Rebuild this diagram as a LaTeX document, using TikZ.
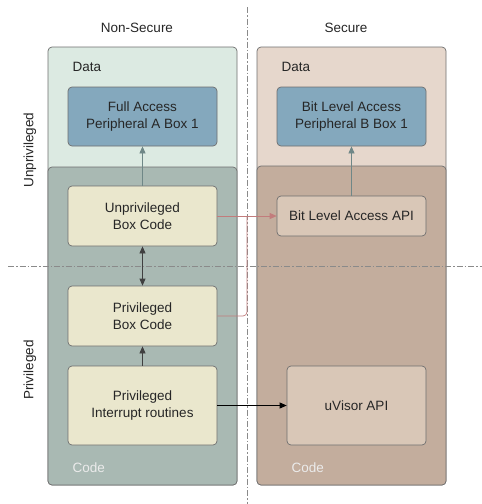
\documentclass[tikz,border=0pt]{standalone}
\usepackage{fontspec}
\setmainfont{Liberation Sans}
\usetikzlibrary{arrows.meta}
\definecolor{nsdata}{HTML}{DCEAE2}
\definecolor{nscode}{HTML}{A9B9B3}
\definecolor{sdata}{HTML}{E6D7CC}
\definecolor{scode}{HTML}{C3AD9D}
\definecolor{periph}{HTML}{84A8BD}
\definecolor{cream}{HTML}{EAE7CD}
\definecolor{apifill}{HTML}{D9C7B7}
\definecolor{edge}{HTML}{6F6F6F}
\definecolor{linkred}{HTML}{C27C7C}
\definecolor{linkgray}{HTML}{6F8787}
\definecolor{guide}{HTML}{8A8A8A}
\begin{document}
\begin{tikzpicture}[x=1pt,y=-1pt,
  font=\fontsize{13.5}{16.5}\selectfont,
  panel/.style={draw=edge, line width=0.7pt, rounded corners=4pt},
  boxnode/.style={draw=edge, line width=0.7pt, rounded corners=4pt, align=center,
    inner sep=0pt, text=black!85},
  guideline/.style={draw=guide, line width=0.6pt, dash pattern=on 6pt off 2pt on 1.5pt off 2pt},
  tip/.style={-{Triangle[length=7pt,width=6pt]}},
  dtip/.style={{Triangle[length=7pt,width=6pt]}-{Triangle[length=7pt,width=6pt]}},
  caption/.style={anchor=base west, text=black!85},
  codecap/.style={anchor=base west, text=white!92!black}]
\useasboundingbox (0,0) rectangle (482,504);

% panels: data area with the code area laid over its lower part
\path[panel, fill=nsdata] (48,47) rectangle (237,485);
\path[panel, fill=nscode] (48,167) rectangle (237,485);
\path[panel, fill=sdata] (257,47) rectangle (446,485);
\path[panel, fill=scode] (257,166) rectangle (446,485);

% guide lines between the domains and privilege levels
\draw[guideline] (247,7) -- (247,504);
\draw[guideline] (8,266) -- (482,266);

% headings
\node[text=black!85] (hns) at (137,28) {Non-Secure};
\node[text=black!85] (hs) at (346,28) {Secure};
\node[rotate=90, text=black!85] (lunpriv) at (30,150) {Unprivileged};
\node[rotate=90, text=black!85] (lpriv) at (30,370) {Privileged};

\node[caption] (dns) at (69,71) {Data};
\node[caption] (ds) at (278,71) {Data};
\node[codecap] (cns) at (69,472) {Code};
\node[codecap] (cs) at (288,472) {Code};

% boxes
\node[boxnode, fill=periph, minimum width=149pt, minimum height=59pt] (fa) at (142.5,116.5)
  {Full Access\\Peripheral A Box 1};
\node[boxnode, fill=periph, minimum width=149pt, minimum height=59pt] (bla) at (351.5,116.5)
  {Bit Level Access\\Peripheral B Box 1};
\node[boxnode, fill=cream, minimum width=149pt, minimum height=60pt] (ub) at (142.5,216)
  {Unprivileged\\Box Code};
\node[boxnode, fill=apifill, minimum width=149pt, minimum height=40pt] (api) at (351.5,216)
  {Bit Level Access API};
\node[boxnode, fill=cream, minimum width=149pt, minimum height=60pt] (pb) at (142.5,316)
  {Privileged\\Box Code};
\node[boxnode, fill=cream, minimum width=149pt, minimum height=79pt] (pir) at (142.5,405.5)
  {Privileged\\Interrupt routines};
\node[boxnode, fill=apifill, minimum width=139pt, minimum height=79pt] (uv) at (356.5,405.5)
  {uVisor API};

% connectors
\coordinate (join) at (247,216);
\draw[tip, linkgray, line width=0.7pt] (ub.north) -- (fa.south);
\draw[tip, linkgray, line width=0.7pt] (api.north) -- (bla.south);
\draw[dtip, black!75, line width=0.7pt] (pb.north) -- (ub.south);
\draw[tip, black!75, line width=0.7pt] (pir.north) -- (pb.south);
\draw[tip, linkred, line width=0.7pt] (ub.east) -- (api.west);
\draw[linkred, line width=0.7pt, rounded corners=4pt] (pb.east) -- (pb.east -| join) -- (join);
\draw[tip, black, line width=0.7pt] (pir.east) -- (uv.west);
\end{tikzpicture}
\end{document}
